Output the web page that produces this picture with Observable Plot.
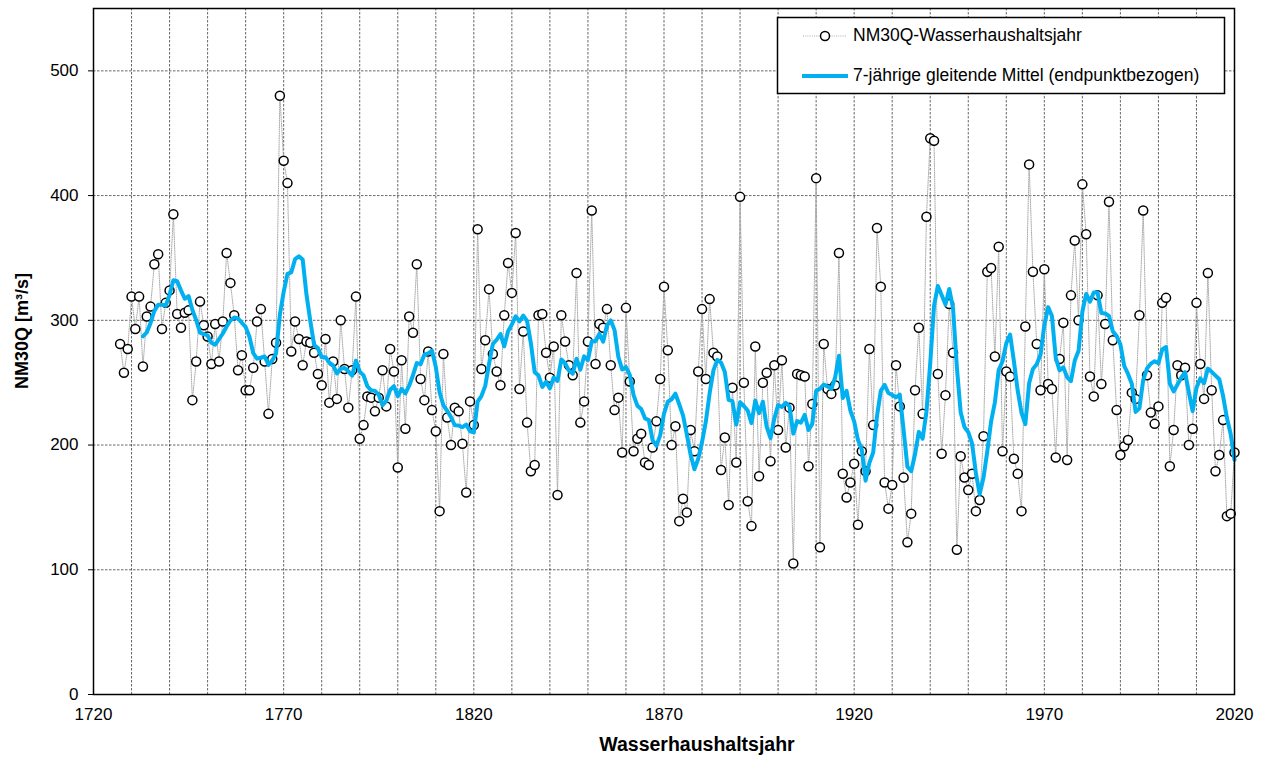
<!DOCTYPE html>
<html>
<head>
<meta charset="utf-8">
<script src="https://cdn.jsdelivr.net/npm/d3@7"></script>
<script src="https://cdn.jsdelivr.net/npm/@observablehq/plot@0.6"></script>
<style>
  html, body { margin: 0; padding: 0; background: #fff; overflow: hidden; }
  #chart { width: 1267px; height: 758px; }
</style>
</head>
<body>
<div id="chart"></div>
<script>
// NM30Q per Wasserhaushaltsjahr, 1727–2020 (m³/s)
const firstYear = 1727;
const nm30q = [
  281, 258, 277, 319, 293, 319, 263, 303, 311, 345, // 1727-1736
  353, 293, 314, 324, 385, 305, 294, 306, 308, 236, // 1737-1746
  267, 315, 296, 287, 265, 297, 267, 299, 354, 330, // 1747-1756
  304, 260, 272, 244, 244, 262, 299, 309, 267, 225, // 1757-1766
  269, 282, 480, 428, 410, 275, 299, 285, 264, 283, // 1767-1776
  282, 274, 257, 248, 285, 234, 267, 237, 300, 261, // 1777-1786
  230, 260, 319, 205, 216, 239, 238, 227, 238, 260, // 1787-1796
  231, 277, 259, 182, 268, 213, 303, 290, 345, 253, // 1797-1806
  236, 275, 228, 211, 147, 273, 222, 200, 230, 227, // 1807-1816
  201, 162, 235, 216, 373, 261, 284, 325, 273, 259, // 1817-1826
  248, 304, 346, 322, 370, 245, 291, 218, 179, 184, // 1827-1836
  304, 305, 274, 254, 279, 160, 304, 283, 264, 256, // 1837-1846
  338, 218, 235, 283, 388, 265, 297, 294, 309, 264, // 1847-1856
  228, 238, 194, 310, 251, 195, 205, 209, 186, 184, // 1857-1866
  198, 219, 253, 327, 276, 200, 215, 139, 157, 146, // 1867-1876
  212, 195, 259, 309, 253, 317, 274, 271, 180, 206, // 1877-1886
  152, 246, 186, 399, 250, 155, 135, 279, 175, 250, // 1887-1896
  258, 187, 264, 212, 268, 198, 230, 105, 257, 256, // 1897-1906
  255, 183, 233, 414, 118, 281, 245, 241, 248, 354, // 1907-1916
  177, 158, 170, 185, 136, 195, 179, 277, 216, 374, // 1917-1926
  327, 170, 149, 168, 264, 231, 174, 122, 145, 244, // 1927-1936
  294, 225, 383, 446, 444, 257, 193, 240, 313, 274, // 1937-1946
  116, 191, 174, 164, 177, 147, 156, 207, 339, 342, // 1947-1956
  271, 359, 195, 259, 255, 189, 177, 147, 295, 425, // 1957-1966
  339, 281, 244, 341, 249, 245, 190, 269, 298, 188, // 1967-1976
  320, 364, 300, 409, 369, 255, 239, 320, 249, 297, // 1977-1986
  395, 284, 228, 192, 199, 204, 242, 237, 304, 388, // 1987-1996
  256, 226, 217, 231, 314, 318, 183, 212, 264, 256, // 1997-2006
  262, 200, 213, 314, 265, 237, 338, 244, 179, 192, // 2007-2016
  220, 143, 145, 194                                // 2017-2020
];
const years = nm30q.map((_, i) => firstYear + i);
const xTickLabels = [1720, 1770, 1820, 1870, 1920, 1970, 2020];
const xGridYears = d3.range(1720, 2021, 10);
const yTicks = [0, 100, 200, 300, 400, 500];
const seriesNames = ["NM30Q-Wasserhaushaltsjahr", "7-jährige gleitende Mittel (endpunktbezogen)"];
const xTitle = "Wasserhaushaltsjahr";
const yTitle = "NM30Q [m³/s]";

const data = years.map((year, i) => ({year, value: nm30q[i]}));

const BLUE = "#00b0f0";
const FONT = "'Liberation Sans', Arial, sans-serif";
const GRID = {stroke: "#000", strokeOpacity: 0.75, strokeWidth: 0.8, strokeDasharray: "2.5,1.5"};
const CONNECT = {stroke: "#aaaaaa", strokeWidth: 1, strokeDasharray: "1,1.2"};

const W = 1267, H = 758;
const svg = Plot.plot({
  width: W,
  height: H,
  marginLeft: 93,
  marginRight: 33,
  marginTop: 8,
  marginBottom: 64,
  style: {fontFamily: FONT, fontSize: "17px", background: "#fff", color: "#000", overflow: "visible"},
  x: {domain: [1720, 2020]},
  y: {domain: [0, 550]},
  marks: [
    Plot.gridX(xGridYears, GRID),
    Plot.gridY(yTicks, GRID),
    Plot.axisY({ticks: yTicks, tickSize: 5, tickPadding: 10, label: null, fontSize: 17}),
    Plot.axisX({ticks: xTickLabels, tickSize: 0, tickPadding: 13, tickFormat: d => String(d), label: null, fontSize: 17}),
    Plot.line(data, {x: "year", y: "value", ...CONNECT}),
    Plot.dot(data, {x: "year", y: "value", r: 4.5, stroke: "#000", strokeWidth: 1.5, fill: "#fff"}),
    Plot.lineY(data, Plot.windowY({k: 7, anchor: "end", reduce: "mean", strict: true},
      {x: "year", y: "value", stroke: BLUE, strokeWidth: 4, strokeLinejoin: "round"})),
    Plot.frame({stroke: "#000", strokeWidth: 1.5})
  ]
});

const s = d3.select(svg);
// axis titles
s.append("text")
  .attr("x", 697).attr("y", 746)
  .attr("text-anchor", "middle").attr("dominant-baseline", "middle")
  .attr("font-family", FONT).attr("font-weight", "bold").attr("font-size", 19.5)
  .text(xTitle);
s.append("text")
  .attr("transform", "translate(23,331) rotate(-90)")
  .attr("text-anchor", "middle").attr("dominant-baseline", "middle")
  .attr("font-family", FONT).attr("font-weight", "bold").attr("font-size", 18)
  .text(yTitle);

// legend
const lg = s.append("g");
lg.append("rect").attr("x", 777.5).attr("y", 17.5).attr("width", 447).attr("height", 76)
  .attr("fill", "#fff").attr("stroke", "#000").attr("stroke-width", 1.5);
lg.append("line").attr("x1", 803).attr("x2", 847).attr("y1", 36).attr("y2", 36)
  .attr("stroke", CONNECT.stroke).attr("stroke-width", CONNECT.strokeWidth).attr("stroke-dasharray", CONNECT.strokeDasharray);
lg.append("circle").attr("cx", 825).attr("cy", 36).attr("r", 4.5)
  .attr("fill", "#fff").attr("stroke", "#000").attr("stroke-width", 1.5);
lg.append("text").attr("x", 853).attr("y", 36).attr("dominant-baseline", "middle").attr("text-anchor", "start")
  .attr("font-family", FONT).attr("font-size", 17.5).text(seriesNames[0]);
lg.append("line").attr("x1", 802).attr("x2", 848).attr("y1", 76).attr("y2", 76)
  .attr("stroke", BLUE).attr("stroke-width", 4);
lg.append("text").attr("x", 853).attr("y", 76).attr("dominant-baseline", "middle").attr("text-anchor", "start")
  .attr("font-family", FONT).attr("font-size", 17.5).text(seriesNames[1]);

document.getElementById("chart").appendChild(svg);
</script>
</body>
</html>
